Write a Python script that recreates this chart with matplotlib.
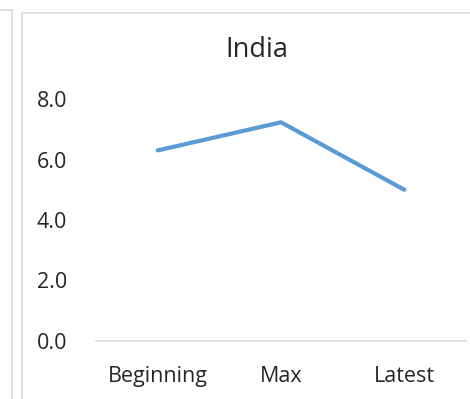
import matplotlib
matplotlib.use("Agg")
import matplotlib.pyplot as plt
from matplotlib.patches import Rectangle
from matplotlib.lines import Line2D

categories = ["Beginning", "Max", "Latest"]
values = [6.3, 7.23, 5.0]
yticks = [0.0, 2.0, 4.0, 6.0, 8.0]
title = "India"

plt.rcParams["font.family"] = ["Open Sans", "DejaVu Sans"]

W, H = 470, 399
fig = plt.figure(figsize=(W / 100, H / 100), dpi=100)
fig.patch.set_facecolor("white")

frame_col = "#d9d9d9"
text_col = "#262626"
# neighbouring chart frame edge and this chart's frame
fig.add_artist(Line2D([0, 12 / W], [1 - 10 / H, 1 - 10 / H], color=frame_col, lw=1.2))
fig.add_artist(Line2D([12 / W, 12 / W], [0, 1 - 10 / H], color=frame_col, lw=1.2))
fig.add_artist(Rectangle((22 / W, -0.1), 1.0, 1.1 - 13 / H, transform=fig.transFigure,
                         fill=False, edgecolor=frame_col, lw=1.2))

ax = fig.add_axes([96 / W, (H - 341) / H, (466 - 96) / W, (341 - 99) / H])
x = range(len(categories))
ax.plot(x, values, color="#5b9bd5", lw=3.0, solid_capstyle="round", solid_joinstyle="round")
ax.set_xlim(-0.5, len(categories) - 0.5)
ax.set_ylim(0, 8)
ax.set_xticks(list(x))
ax.set_xticklabels(categories)
ax.set_yticks(yticks)
ax.set_yticklabels([f"{v:.1f}" for v in yticks])
for s in ["top", "right", "left"]:
    ax.spines[s].set_visible(False)
ax.spines["bottom"].set_color(frame_col)
ax.spines["bottom"].set_linewidth(1.2)
ax.tick_params(axis="both", length=0, labelsize=15.5, colors=text_col)
ax.tick_params(axis="x", pad=18)
ax.tick_params(axis="y", pad=42.5)
for lab in ax.get_yticklabels():
    lab.set_horizontalalignment("left")
ax.set_facecolor("none")
fig.text(257 / W, 1 - 50 / H, title, ha="center", va="center", fontsize=19.5, color=text_col)

fig.savefig("out.png", dpi=100)
